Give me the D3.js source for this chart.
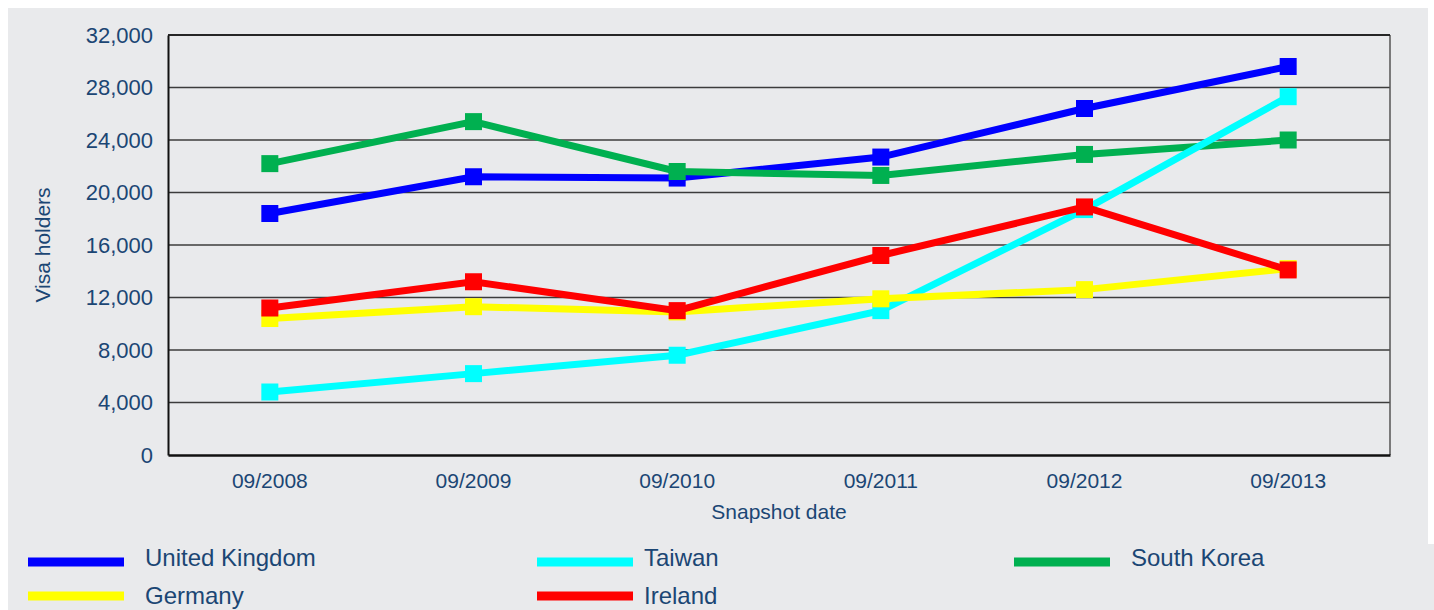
<!DOCTYPE html>
<html><head><meta charset="utf-8">
<script src="https://cdn.jsdelivr.net/npm/d3@7"></script>
<style>html,body{margin:0;padding:0;background:#fff;}svg{display:block;font-family:"Liberation Sans",Arial,sans-serif;}</style>
</head><body>
<svg id="c" width="1434" height="610"></svg>
<script>
const categories = ["09/2008","09/2009","09/2010","09/2011","09/2012","09/2013"];
const yTicks = [0,4000,8000,12000,16000,20000,24000,28000,32000];
const unitedKingdom = [18400,21200,21100,22700,26400,29600];
const taiwan = [4800,6200,7600,11000,18700,27300];
const southKorea = [22200,25400,21600,21300,22900,24000];
const germany = [10400,11300,10900,11900,12600,14200];
const ireland = [11200,13200,11000,15200,18900,14100];
const seriesNames = ["United Kingdom","Taiwan","South Korea","Germany","Ireland"];
const seriesColors = ["#0000ff","#00ffff","#00b050","#ffff00","#ff0000"];
const seriesValues = [unitedKingdom,taiwan,southKorea,germany,ireland];
const drawOrder = [0,2,1,3,4];

const svg = d3.select("#c");
const textColor = "#1b4674";
svg.append("rect").attr("x",8).attr("y",8).attr("width",1420).attr("height",602).attr("fill","#e9eaec");
svg.append("rect").attr("x",1420).attr("y",544).attr("width",14).attr("height",66).attr("fill","#e9eaec");

const m = {l:168, r:1390, t:35, b:455};
const x = d3.scaleBand().domain(categories).range([m.l,m.r]);
const y = d3.scaleLinear().domain([0,32000]).range([m.b,m.t]);

// gridlines
svg.append("g").selectAll("line").data(yTicks.filter(d=>d>0)).join("line")
  .attr("x1",m.l).attr("x2",m.r).attr("y1",d=>y(d)).attr("y2",d=>y(d))
  .attr("stroke","#3c3c3c").attr("stroke-width",1.5);
// border
svg.append("line").attr("x1",m.r).attr("x2",m.r).attr("y1",m.t).attr("y2",m.b).attr("stroke","#555").attr("stroke-width",1.5);
svg.append("line").attr("x1",m.l).attr("x2",m.r).attr("y1",m.t).attr("y2",m.t).attr("stroke","#111").attr("stroke-width",1.5);

// axes
const yAxis = svg.append("g").attr("transform",`translate(${m.l},0)`)
  .call(d3.axisLeft(y).tickValues(yTicks).tickFormat(d3.format(",")).tickSize(0).tickPadding(15));
yAxis.select(".domain").attr("stroke","#111").attr("stroke-width",2);
yAxis.selectAll("text").attr("fill",textColor).style("font-size","22px");

const xAxis = svg.append("g").attr("transform",`translate(0,${m.b})`)
  .call(d3.axisBottom(x).tickSize(0).tickPadding(18));
xAxis.select(".domain").attr("stroke","#111").attr("stroke-width",2.5);
xAxis.selectAll("text").attr("fill",textColor).style("font-size","21px");

svg.append("text").attr("x",(m.l+m.r)/2).attr("y",519).attr("text-anchor","middle")
  .attr("fill",textColor).style("font-size","21px").text("Snapshot date");
svg.append("text").attr("transform",`translate(50,${(m.t+m.b)/2}) rotate(-90)`).attr("text-anchor","middle")
  .attr("fill",textColor).style("font-size","21px").text("Visa holders");

// lines
const line = d3.line().x((d,i)=>x(categories[i])+x.bandwidth()/2).y(d=>y(d));
const ms = 17;
drawOrder.forEach(k=>{
  const g = svg.append("g");
  g.append("path").attr("d",line(seriesValues[k])).attr("fill","none")
    .attr("stroke",seriesColors[k]).attr("stroke-width",7);
  g.selectAll("rect").data(seriesValues[k]).join("rect")
    .attr("x",(d,i)=>x(categories[i])+x.bandwidth()/2-ms/2).attr("y",d=>y(d)-ms/2)
    .attr("width",ms).attr("height",ms).attr("fill",seriesColors[k]);
});

// legend
const legendPos = [[28,562,566,117],[537,562,566,107],[1014,562,566,117],[28,596,604,117],[537,596,604,107]];
legendPos.forEach((p,k)=>{
  svg.append("rect").attr("x",p[0]).attr("y",p[1]-4.5).attr("width",96).attr("height",9).attr("fill",seriesColors[k]);
  svg.append("text").attr("x",p[0]+p[3]).attr("y",p[2]).attr("fill",textColor)
    .style("font-size","24px").text(seriesNames[k]);
});
</script>
</body></html>
